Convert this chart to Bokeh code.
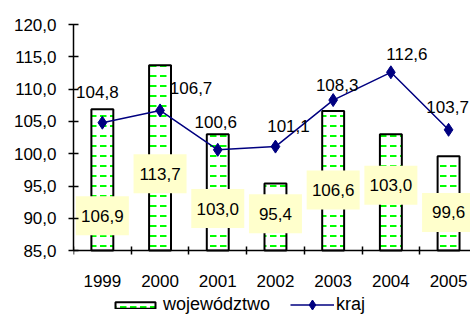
from bokeh.plotting import figure
from bokeh.models import (ColumnDataSource, Range1d, FixedTicker, CustomJSTickFormatter,
                          Legend, LegendItem)
from bokeh.core.properties import value
from bokeh.embed import file_html
from bokeh.resources import INLINE

years = ["1999", "2000", "2001", "2002", "2003", "2004", "2005"]
wojewodztwo = [106.9, 113.7, 103.0, 95.4, 106.6, 103.0, 99.6]
kraj = [104.8, 106.7, 100.6, 101.1, 108.3, 112.6, 103.7]

# layout of the labels (as placed in the original)
bar_label_y = [90.4, 96.9, 91.5, 90.7, 94.4, 95.1, 90.9]
line_label_dx = [-5, 31, -2, 13, 4, 16, -1]
line_label_dy = [-31, -22, -28, -21, -15, -18, -23]

FONT = "Liberation Sans"
idx = list(range(len(years)))
Y_MIN, Y_MAX = 85, 120

def fmt(v):
    return f"{v:.1f}".replace(".", ",")

src = ColumnDataSource(dict(
    x=idx, woj=wojewodztwo, kraj=kraj, ly=bar_label_y,
    wl=[fmt(v) for v in wojewodztwo], kl=[fmt(v) for v in kraj],
    dx=line_label_dx, dy=line_label_dy,
))

# frame runs down to the bottom of the figure so the legend below the axis is visible;
# the category axis is pinned at the value 85
p = figure(width=470, height=316, x_range=Range1d(-0.5, 6.38), y_range=Range1d(74.8, Y_MAX),
           output_backend="svg", toolbar_location=None,
           min_border_left=73, min_border_right=0, min_border_top=24, min_border_bottom=0)
p.xgrid.visible = False
p.ygrid.visible = False
p.outline_line_color = None
p.background_fill_color = "white"
p.border_fill_color = "white"

bars = p.vbar(x="x", top="woj", bottom=Y_MIN, width=0.38, source=src,
              fill_color="white", line_color="black", line_width=2,
              hatch_pattern="horizontal_dash", hatch_color="#00FF00",
              hatch_scale=10, hatch_weight=2)

line = p.line(x="x", y="kraj", source=src, line_color="#000080", line_width=1.5)
pts = p.scatter(x="x", y="kraj", source=src, marker="diamond", size=13,
                fill_color="#000080", line_color="#000080")

# yellow boxes for bar values
p.rect(x="x", y="ly", width=53, height=39, width_units="screen", height_units="screen",
       source=src, fill_color="#FFFFCC", line_color=None)
p.text(x="x", y="ly", text="wl", source=src, text_align="center", text_baseline="middle",
       text_font=value(FONT), text_font_size="17px", text_color="black")

# line value labels
p.text(x="x", y="kraj", text="kl", source=src, x_offset="dx", y_offset="dy",
       text_align="center", text_baseline="middle",
       text_font=value(FONT), text_font_size="17px", text_color="black")

# axes
xa = p.xaxis[0]
xa.fixed_location = Y_MIN
xa.ticker = FixedTicker(ticks=idx, minor_ticks=[i - 0.5 for i in range(len(years) + 1)])
xa.major_label_overrides = {i: y for i, y in enumerate(years)}
xa.major_tick_line_color = None
xa.major_tick_in = 0
xa.major_tick_out = 0
xa.minor_tick_in = 4
xa.minor_tick_out = 4
xa.minor_tick_line_color = "black"
xa.minor_tick_line_width = 1.5
xa.axis_line_color = "black"
xa.axis_line_width = 1.5
xa.major_label_standoff = 20
xa.major_label_text_font = FONT
xa.major_label_text_font_size = "17px"
xa.major_label_text_color = "black"

ya = p.yaxis[0]
ya.bounds = (Y_MIN, Y_MAX)
ya.ticker = FixedTicker(ticks=[85, 90, 95, 100, 105, 110, 115, 120], minor_ticks=[])
ya.formatter = CustomJSTickFormatter(code="return tick.toFixed(1).replace('.', ',');")
ya.major_tick_in = 5
ya.major_tick_out = 5
ya.major_tick_line_color = "black"
ya.major_tick_line_width = 1.5
ya.axis_line_color = "black"
ya.axis_line_width = 1.5
ya.major_label_standoff = 12
ya.major_label_text_font = FONT
ya.major_label_text_font_size = "17px"
ya.major_label_text_color = "black"

common = dict(orientation="horizontal", padding=0, margin=0,
              border_line_color=None, background_fill_alpha=0,
              label_text_font=FONT, label_text_font_size="18px", label_text_color="black")
legend1 = Legend(items=[LegendItem(label="województwo", renderers=[bars])],
                 location=(37, 1), glyph_width=50, glyph_height=8, label_height=10,
                 label_standoff=3, **common)
legend2 = Legend(items=[LegendItem(label="kraj", renderers=[line, pts])],
                 location=(217, -1), glyph_width=44, glyph_height=25, label_height=10,
                 label_standoff=2, **common)
p.add_layout(legend1)
p.add_layout(legend2)

open("out.html", "w").write(file_html(p, INLINE))
